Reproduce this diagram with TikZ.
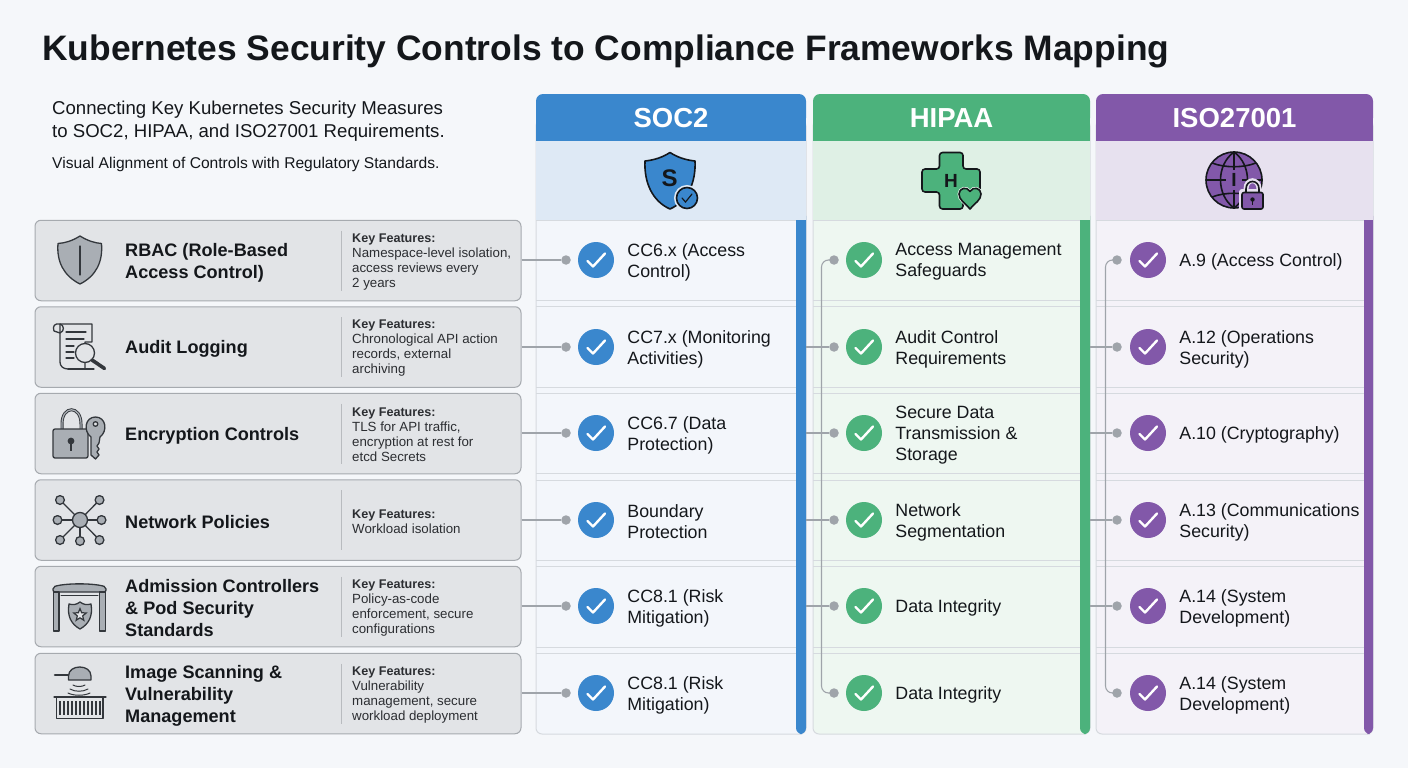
\documentclass[tikz,border=0pt]{standalone}
\usepackage{fontspec}
\setmainfont{Liberation Sans}
\usetikzlibrary{shapes.geometric}
\definecolor{bgc}{HTML}{F5F7FA}
\definecolor{ink}{HTML}{14171B}
\definecolor{boxf}{HTML}{E2E4E7}
\definecolor{boxd}{HTML}{A6AAAF}
\definecolor{icof}{HTML}{A9AEB4}
\definecolor{icod}{HTML}{33373C}
\definecolor{conc}{HTML}{9FA4AA}
\definecolor{sepc}{HTML}{D6DADF}
\definecolor{socH}{HTML}{3A87CD}\definecolor{socS}{HTML}{DEE9F5}\definecolor{socB}{HTML}{F3F6FB}
\definecolor{hipH}{HTML}{4CB27C}\definecolor{hipS}{HTML}{DFF0E5}\definecolor{hipB}{HTML}{EEF7F1}
\definecolor{isoH}{HTML}{8258A9}\definecolor{isoS}{HTML}{E7E1EF}\definecolor{isoB}{HTML}{F4F2F8}
\newcommand{\kfhead}{{\fontsize{12.6}{15}\selectfont\bfseries Key Features:}}
\tikzset{
 ctrlbox/.style={draw=boxd,fill=boxf,line width=1pt,rounded corners=6pt,minimum width=486pt,minimum height=80.5pt,inner sep=0pt},
 ctrltitle/.style={anchor=west,align=left,inner sep=0pt,yshift=-2pt,text=ink,font=\fontsize{18.1}{22}\selectfont\bfseries},
 feat/.style={anchor=west,align=left,inner sep=0pt,yshift=-1.5pt,text=ink!90,font=\fontsize{13.3}{15}\selectfont},
 celltxt/.style={anchor=west,align=left,inner sep=0pt,yshift=-2pt,text=ink,font=\fontsize{17.8}{21}\selectfont},
 headtxt/.style={inner sep=0pt,text=white,font=\fontsize{27.5}{30}\selectfont\bfseries},
 conn/.style={draw=conc,line width=1.1pt},
 dotn/.style={circle,fill=conc,minimum size=9.5pt,inner sep=0pt},
 chkc/.style={circle,minimum size=36pt,inner sep=0pt},
 chkm/.style={draw=white,line width=2.4pt,line cap=round,line join=round},
 sep/.style={draw=sepc,line width=1pt},
 ico/.style={draw=icod,line width=1.3pt,fill=icof,line join=round},
 icol/.style={draw=icod,line width=1.3pt,line cap=round,line join=round},
 iblk/.style={draw=ink,line width=1.6pt,line join=round}
}
\begin{document}
\begin{tikzpicture}[x=1pt,y=-1pt]
\useasboundingbox (0,0) rectangle (1408,768);
\fill[bgc] (0,0) rectangle (1408,768);
% title
\node[anchor=west,inner sep=0pt,text=ink,font=\fontsize{35.4}{40}\selectfont\bfseries] (title) at (42,51.5) {Kubernetes Security Controls to Compliance Frameworks Mapping};
\node[anchor=north west,align=left,inner sep=0pt,text=ink,font=\fontsize{18.6}{23}\selectfont] (sub1) at (52,100.5) {Connecting Key Kubernetes Security Measures\\to SOC2, HIPAA, and ISO27001 Requirements.};
\node[anchor=west,inner sep=0pt,text=ink,font=\fontsize{15.6}{18}\selectfont] (sub2) at (52,164) {Visual Alignment of Controls with Regulatory Standards.};
% columns
\foreach \nm/\xa/\xb/\bar/\H/\S/\B/\lab in {soc/536/806/796/socH/socS/socB/SOC2, hip/813/1090/1080/hipH/hipS/hipB/HIPAA, iso/1096/1373/1364/isoH/isoS/isoB/ISO27001}{
  \path[fill=\B,draw=sepc,line width=1pt,rounded corners=6pt] (\xa,120) -- (\xa,734) -- (\xb,734) -- (\xb,120) -- cycle;
  \fill[\S] (\xa,141) rectangle (\xb,220);
  \draw[sep] (\xa,220) -- (\bar,220);
  \fill[\H,rounded corners=7pt] (\xa,125) -- (\xa,94) -- (\xb,94) -- (\xb,125) -- cycle;
  \fill[\H] (\xa,110) rectangle (\xb,141);
  \fill[\H,rounded corners=6pt] (\bar,210) -- (\bar,734) -- (\xb,734) -- (\xb,210) -- cycle;
  \fill[\H] (\bar,220) rectangle (\xb,722);
  \fill[\S] (\bar,205) rectangle (\xb,220);
  \node[headtxt] (head\nm) at ({(\xa+\xb)/2},118) {\lab};
  \foreach \ya/\yb in {300.5/306,387/393,473.5/480,560/566,647/653}{
    \draw[sep] (\xa,\ya) -- (\bar,\ya);
    \draw[sep] (\xa,\yb) -- (\bar,\yb);
  }
}
% left boxes, labels, features
\foreach \i/\y/\t/\f in {
 1/260.5/{RBAC (Role-Based\\Access Control)}/{\kfhead\\Namespace-level isolation,\\access reviews every\\2 years},
 2/347/{Audit Logging}/{\kfhead\\Chronological API action\\records, external\\archiving},
 3/433.5/{Encryption Controls}/{\kfhead\\TLS for API traffic,\\encryption at rest for\\etcd Secrets},
 4/520/{Network Policies}/{\kfhead\\Workload isolation},
 5/606.5/{Admission Controllers\\\&~Pod Security\\Standards}/{\kfhead\\Policy-as-code\\enforcement, secure\\configurations},
 6/693.5/{Image Scanning \&\\Vulnerability\\Management}/{\kfhead\\Vulnerability\\management, secure\\workload deployment}}{
  \node[ctrlbox] (ctl\i) at (278,\y) {};
  \node[ctrltitle] (ctlt\i) at (125,\y) {\t};
  \node[feat] (feat\i) at (352,\y) {\f};
  \draw[draw=boxd!80,line width=1pt] (341,\y-30) -- (341,\y+30);
}
% mapping cells
\foreach \col/\dx/\cx/\tx/\H in {soc/566/596/627/socH, hip/834/864/895/hipH, iso/1117/1148/1178/isoH}{
 \foreach \i/\y in {1/260,2/347,3/433,4/520,5/606,6/693}{
  \node[dotn] (\col d\i) at (\dx,\y) {};
  \node[chkc,fill=\H] (\col c\i) at (\cx,\y) {};
  \draw[chkm,shift={(\cx,\y)}] (-8.5,1) -- (-3,6.5) -- (9,-6.5);
 }
}
\foreach \i/\t in {1/{CC6.x (Access\\Control)},2/{CC7.x (Monitoring\\Activities)},3/{CC6.7 (Data\\Protection)},4/{Boundary\\Protection},5/{CC8.1 (Risk\\Mitigation)},6/{CC8.1 (Risk\\Mitigation)}}{
  \node[celltxt] (soct\i) at ([xshift=13pt]socc\i.east) {\t};}
\foreach \i/\t in {1/{Access Management\\Safeguards},2/{Audit Control\\Requirements},3/{Secure Data\\Transmission \&\\Storage},4/{Network\\Segmentation},5/{Data Integrity},6/{Data Integrity}}{
  \node[celltxt] (hipt\i) at ([xshift=13pt]hipc\i.east) {\t};}
\foreach \i/\t in {1/{A.9 (Access Control)},2/{A.12 (Operations\\Security)},3/{A.10 (Cryptography)},4/{A.13 (Communications\\Security)},5/{A.14 (System\\Development)},6/{A.14 (System\\Development)}}{
  \node[celltxt] (isot\i) at ([xshift=13pt]isoc\i.east) {\t};}
% connectors
\foreach \i in {1,...,6}{\draw[conn] (ctl\i.east |- socd\i) -- (socd\i);}
\foreach \i/\y in {2/347,3/433,4/520,5/606}{
  \coordinate (hs\i) at (806,\y); \coordinate (is\i) at (1090,\y);
  \draw[conn] (hs\i) -- (hipd\i);
  \draw[conn] (is\i) -- (isod\i);
}
\coordinate (hv1) at (821.5,260); \coordinate (hv6) at (821.5,693);
\coordinate (iv1) at (1105.5,260); \coordinate (iv6) at (1105.5,693);
\draw[conn,rounded corners=7pt] (hipd1.center) -- (hv1) -- (hv6) -- (hipd6.center);
\draw[conn,rounded corners=7pt] (isod1.center) -- (iv1) -- (iv6) -- (isod6.center);
% icon: shield
\draw[ico] (80,236) .. controls (88,241) and (95,243) .. (101.5,243.5) .. controls (103,262) and (96,276) .. (80,284) .. controls (64,276) and (56.5,262) .. (58,243.5) .. controls (65,243) and (72,241) .. (80,236) -- cycle;
\draw[icol] (80,246) -- (80,275);
% icon: scroll and magnifier
\draw[ico,fill=boxf] (60,324) -- (92,324) -- (92,342) -- (85,342) -- (85,369) -- (68,369) .. controls (63,369) and (60,366) .. (60,362) -- cycle;
\draw[icol] (54,331) .. controls (52,326) and (55,323) .. (60,324) .. controls (64,325) and (65,331) .. (60,333) -- (54,331);
\draw[icol] (66,332) -- (86,332) (66,339) -- (84,339) (66,346) -- (74,346) (66,352) -- (74,352) (66,358) -- (74,358) (68,369) -- (94,369);
\draw[ico,fill=boxf] (85,353) circle (9.5);
\draw[icod,line width=3.6pt,line cap=round] (92,360) -- (104.5,368.5);
% icon: lock and key
\draw[icod,line width=3pt] (62,431) -- (62,424) .. controls (62,405) and (81,405) .. (81,424) -- (81,431);
\draw[icof,line width=1.2pt] (62,431) -- (62,424) .. controls (62,405) and (81,405) .. (81,424) -- (81,431);
\draw[ico,rounded corners=2pt] (53,429) rectangle (88,458);
\fill[icod] (71,441) circle (3.4); \draw[icod,line width=2.6pt] (71,441) -- (71,451);
\draw[ico] (91,437) -- (91,455) -- (95.5,459) -- (99,455) -- (97,452) -- (99,449) -- (97,446) -- (99,443) -- (100,437) .. controls (108,431) and (106,417) .. (95.5,417) .. controls (85,417) and (83,431) .. (91,437) -- cycle;
\draw[icol,fill=boxf] (95.5,424) circle (2.3);
% icon: network
\coordinate (nc) at (80,520);
\foreach \px/\py in {60/500,99.5/500,57.5/520,101.5/520,60/540,80/541,99.5/540}{
  \draw[icol] (nc) -- (\px,\py);
  \draw[ico] (\px,\py) circle (4.4);
}
\draw[ico] (nc) circle (7.5);
% icon: gate and badge
\draw[ico,rounded corners=2pt] (53,592) -- (53,587) .. controls (65,583) and (94,583) .. (106,587) -- (106,592) -- cycle;
\draw[ico] (53.5,592) rectangle (59,631);
\draw[ico] (99.5,592) rectangle (105.5,631);
\draw[icol,line width=1pt] (61,595) -- (98,595);
\draw[ico] (80,602) .. controls (84,605) and (87,605) .. (91,604) .. controls (93,616) and (89,624) .. (80,629) .. controls (71,624) and (67,616) .. (69,604) .. controls (73,605) and (76,605) .. (80,602) -- cycle;
\node[star,star points=5,star point ratio=2.3,draw=icod,line width=1.2pt,fill=boxf,minimum size=13pt,inner sep=0pt] (badge) at (80,615) {};
% icon: scanner
\draw[ico] (68.5,680) -- (68.5,676) .. controls (68.5,664) and (91,664) .. (91,676) -- (91,680) -- cycle;
\draw[icod,line width=2.6pt,line cap=round] (55,675) -- (68,675);
\draw[icol,line width=1pt] (73,685) .. controls (76,687) and (82,687) .. (85,685);
\draw[icol,line width=1pt] (70,689) .. controls (75,692) and (83,692) .. (88,689);
\draw[icol,line width=1pt] (68,693) .. controls (74,696) and (84,696) .. (90,693);
\draw[ico,fill=boxf] (56.5,697) rectangle (103,718.5);
\draw[icol] (54,697) -- (106,697);
\foreach \sx in {60,64,...,100}{\draw[icod,line width=1.2pt] (\sx,701) -- (\sx,715);}
% icon: SOC2 shield
\draw[iblk,fill=socH] (670,152.5) .. controls (677,157) and (685,160) .. (695,161) .. controls (696,182) and (688,201) .. (670,209) .. controls (652,201) and (644,182) .. (645,161) .. controls (655,160) and (663,157) .. (670,152.5) -- cycle;
\node[inner sep=0pt,text=ink,font=\fontsize{24}{24}\selectfont\bfseries] (socSl) at (669.5,178) {S};
\draw[draw=socS,line width=2pt,fill=socH] (687,198) circle (12);
\draw[iblk,fill=socH] (687,198) circle (10.5);
\draw[ink,line width=1.2pt,line cap=round] (682,198) -- (685.5,202) -- (692,194);
% icon: HIPAA cross
\draw[iblk,fill=hipH,rounded corners=3pt] (939.5,152.5) -- (963,152.5) -- (963,169) -- (980,169) -- (980,192) -- (963,192) -- (963,209) -- (939.5,209) -- (939.5,192) -- (922,192) -- (922,169) -- (939.5,169) -- cycle;
\node[inner sep=0pt,text=ink,font=\fontsize{19}{19}\selectfont\bfseries] (hipHl) at (951,181) {H};
\draw[draw=hipS,line width=3pt,fill=hipH] (970,209) .. controls (965,203) and (959,200) .. (959,194) .. controls (959,188) and (967,186) .. (970,191.5) .. controls (973,186) and (981,188) .. (981,194) .. controls (981,200) and (975,203) .. (970,209) -- cycle;
\draw[iblk,fill=hipH] (970,209) .. controls (965,203) and (959,200) .. (959,194) .. controls (959,188) and (967,186) .. (970,191.5) .. controls (973,186) and (981,188) .. (981,194) .. controls (981,200) and (975,203) .. (970,209) -- cycle;
% icon: ISO globe
\draw[iblk,fill=isoH] (1234,180) circle (28);
\draw[iblk] (1234,152) .. controls (1216,165) and (1216,195) .. (1234,208);
\draw[iblk] (1234,152) .. controls (1252,165) and (1252,195) .. (1234,208);
\draw[iblk] (1234,152) -- (1234,170) (1234,190) -- (1234,208);
\draw[iblk] (1206,180) -- (1226,180);
\draw[iblk] (1242,180) -- (1262,180);
\draw[iblk] (1212,163) .. controls (1225,168) and (1243,168) .. (1256,163);
\draw[iblk] (1212,197) .. controls (1225,192) and (1243,192) .. (1256,197);
\node[inner sep=0pt,text=ink,font=\fontsize{19}{19}\selectfont\bfseries] (isoI) at (1234,180) {I};
\draw[draw=isoS,line width=5pt] (1246,194) -- (1246,189) .. controls (1246,178) and (1259,178) .. (1259,189) -- (1259,194);
\fill[isoS,rounded corners=3pt] (1239,189) rectangle (1266,212);
\draw[iblk] (1246,193) -- (1246,189) .. controls (1246,179) and (1259,179) .. (1259,189) -- (1259,193);
\draw[iblk,fill=isoH,rounded corners=2pt] (1242,192.5) rectangle (1263,209);
\fill[ink] (1252.5,199.5) circle (2.2); \draw[ink,line width=1.2pt] (1252.5,199.5) -- (1252.5,205);
\end{tikzpicture}
\end{document}
